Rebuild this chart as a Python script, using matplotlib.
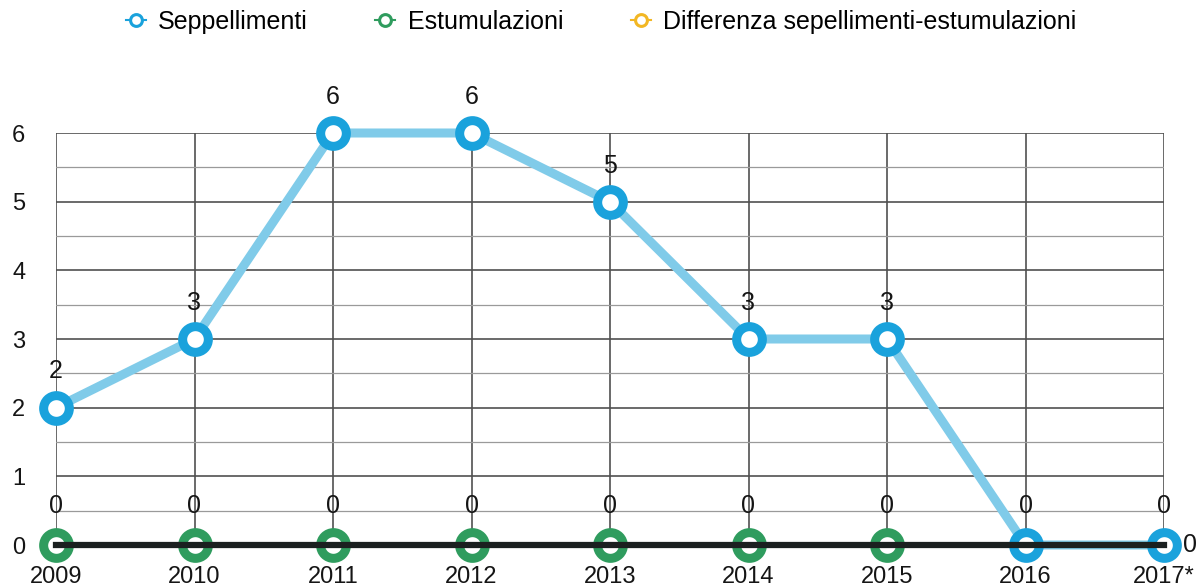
import matplotlib.pyplot as plt
from matplotlib.lines import Line2D
from matplotlib.ticker import MultipleLocator

plt.rcParams['font.family'] = ['Liberation Sans', 'DejaVu Sans']

years = ["2009", "2010", "2011", "2012", "2013", "2014", "2015", "2016", "2017*"]
seppellimenti = [2, 3, 6, 6, 5, 3, 3, 0, 0]
estumulazioni = [0, 0, 0, 0, 0, 0, 0, 0, 0]

blue_line = '#80cbe9'
blue_edge = '#1aa2dc'
green_edge = '#2f9c5e'
yellow_edge = '#f2b724'
text_col = '#151515'

x = list(range(len(years)))

fig = plt.figure(figsize=(12.02, 5.88), dpi=100)
ax = fig.add_axes([56/1202, 43/588, 1108/1202, 412/588])

# grid
ax.set_xlim(0, len(years) - 1)
ax.set_ylim(0, 6)
ax.yaxis.set_major_locator(MultipleLocator(1))
ax.yaxis.set_minor_locator(MultipleLocator(0.5))
ax.grid(which='major', axis='both', color='#505050', lw=1.2, zorder=0)
ax.grid(which='minor', axis='y', color='#9a9a9a', lw=0.9, zorder=0)
ax.set_axisbelow(True)
for s in ax.spines.values():
    s.set_visible(False)

ax.set_xticks(x)
ax.set_xticklabels(years)
ax.tick_params(axis='both', which='both', length=0, labelsize=17, colors=text_col)
ax.tick_params(axis='x', pad=15)
ax.tick_params(axis='y', pad=22)

# estumulazioni
ax.plot(x[:7], estumulazioni[:7], ls='none', marker='o', ms=18.5, mew=6.5,
        mfc='white', mec=green_edge, zorder=3, clip_on=False)

# seppellimenti
ax.plot(x, seppellimenti, color=blue_line, lw=6.5, solid_capstyle='round',
        zorder=3, clip_on=False)
ax.plot(x, seppellimenti, ls='none', marker='o', ms=18.5, mew=6.5,
        mfc='white', mec=blue_edge, zorder=4, clip_on=False)

# baseline
ax.axhline(0, color='#1b2020', lw=4.5, zorder=6, clip_on=False)

# labels
for i, v in enumerate(estumulazioni):
    ax.annotate(str(v), (x[i], v), xytext=(0, 23), textcoords='offset points',
                ha='center', va='baseline', fontsize=18, color=text_col)
for i, v in enumerate(seppellimenti):
    if i == len(seppellimenti) - 1:
        ax.annotate(str(v), (x[i], v), xytext=(14, 0), textcoords='offset points',
                    ha='left', va='center', fontsize=18, color=text_col,
                    annotation_clip=False)
    elif v > 0:
        ax.annotate(str(v), (x[i], v), xytext=(0, 21), textcoords='offset points',
                    ha='center', va='baseline', fontsize=18, color=text_col,
                    annotation_clip=False)

# legend
handles = [
    Line2D([], [], lw=1.5, color=blue_edge, marker='o', ms=8.5, mew=2.2, mfc='white', mec=blue_edge),
    Line2D([], [], lw=1.5, color=green_edge, marker='o', ms=8.5, mew=2.2, mfc='white', mec=green_edge),
    Line2D([], [], lw=1.5, color=yellow_edge, marker='o', ms=8.5, mew=2.2, mfc='white', mec=yellow_edge),
]
labels = ["Seppellimenti", "Estumulazioni", "Differenza sepellimenti-estumulazioni"]
fig.legend(handles, labels, loc='center', bbox_to_anchor=(0.5, 1 - 22/588), ncol=3,
           frameon=False, fontsize=18, handletextpad=0.5, columnspacing=2.7,
           handlelength=0.8)

fig.savefig('out.png', dpi=100)
